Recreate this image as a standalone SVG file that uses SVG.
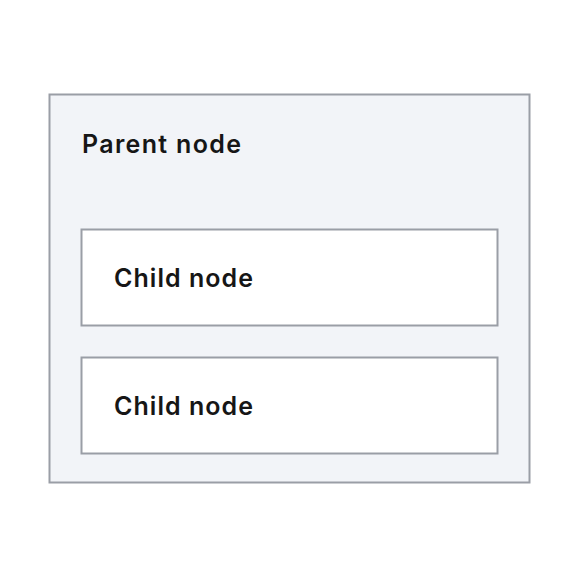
<svg xmlns="http://www.w3.org/2000/svg" width="578" height="578" viewBox="0 0 578 578">
<style>
.box{stroke:#9a9ea6;stroke-width:2}
.parent{fill:#f2f4f8}
.child{fill:#ffffff}
.lbl{font-family:"Inter","Noto Sans",sans-serif;font-weight:600;font-size:25px;fill:#161616}
</style>
<rect width="578" height="578" fill="#ffffff"/>
<g id="parent">
<rect class="box parent" x="49.5" y="94.5" width="480" height="388"/>
<text class="lbl" x="82" y="153" textLength="159">Parent node</text>
</g>
<g id="child1">
<rect class="box child" x="81.5" y="229.5" width="416" height="96"/>
<text class="lbl" x="114" y="287" textLength="139">Child node</text>
</g>
<g id="child2">
<rect class="box child" x="81.5" y="357.5" width="416" height="96"/>
<text class="lbl" x="114" y="415" textLength="139">Child node</text>
</g>
<g id="connectors"></g>
</svg>
